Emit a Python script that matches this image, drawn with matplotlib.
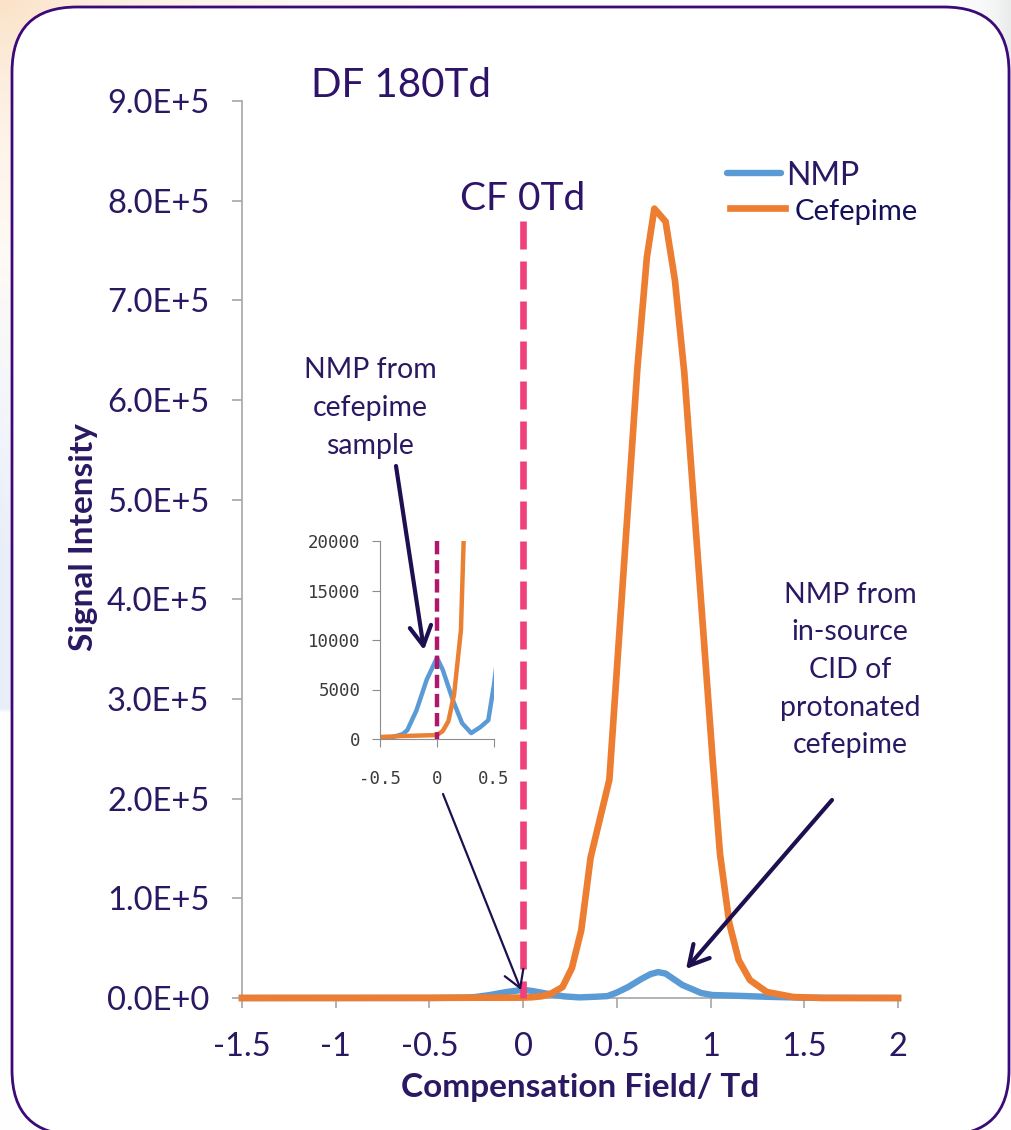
import numpy as np
import matplotlib
matplotlib.use("Agg")
import matplotlib.pyplot as plt
from matplotlib.patches import FancyBboxPatch
from matplotlib.lines import Line2D

W, H = 1011, 1130

# NMP signal vs compensation field (Td)
cf_nmp = [-1.5, -0.5, -0.4, -0.3, -0.26, -0.18, -0.09, 0.0, 0.05, 0.14, 0.22, 0.30,
          0.38, 0.45, 0.50, 0.56, 0.63, 0.68, 0.72, 0.76, 0.85, 0.95, 1.01, 1.1,
          1.3, 1.5, 2.0]
nmp = [0, 0, 150, 500, 900, 2900, 6000, 8200, 7000, 3900, 1600, 600,
       1200, 1900, 5500, 11000, 19000, 24000, 26000, 24500, 13000, 5000, 3000, 2500,
       1200, 300, 0]

# Cefepime signal vs compensation field (Td)
cf_cef = [-1.5, -0.5, -0.3, 0.0, 0.05, 0.10, 0.15, 0.21, 0.26, 0.31, 0.36, 0.46,
          0.61, 0.66, 0.70, 0.76, 0.81, 0.86, 1.01, 1.05, 1.10, 1.15, 1.21, 1.30,
          1.44, 1.6, 2.0]
cef = [0, 200, 300, 400, 800, 1800, 4500, 11000, 30000, 68000, 141000, 219000,
       633000, 743000, 792000, 779000, 720000, 627000, 242000, 145000, 75000, 38000, 18000, 6000,
       1000, 0, 0]

cf_zero = [0, 0]
cf_zero_top = [780000, 0]
cf_zero_inset = [20000, 0]

x_ticks = [-1.5, -1, -0.5, 0, 0.5, 1, 1.5, 2]
x_labels = ['-1.5', '-1', '-0.5', '0', '0.5', '1', '1.5', '2']
y_ticks = [0, 1e5, 2e5, 3e5, 4e5, 5e5, 6e5, 7e5, 8e5, 9e5]
y_labels = ['0.0E+0', '1.0E+5', '2.0E+5', '3.0E+5', '4.0E+5',
            '5.0E+5', '6.0E+5', '7.0E+5', '8.0E+5', '9.0E+5']
inset_x_ticks = [-0.5, 0, 0.5]
inset_x_labels = ['-0.5', '0', '0.5']
inset_y_ticks = [0, 5000, 10000, 15000, 20000]

purple = '#2B1863'
blue = '#5B9BD5'
orange = '#ED7D31'
pink = '#F0427A'
grey = '#A6A6A6'

plt.rcParams['font.family'] = ['Lato', 'DejaVu Sans']
plt.rcParams['axes.unicode_minus'] = False


def fx(px):
    return px / W


def fy(py):
    return 1 - py / H


fig = plt.figure(figsize=(W / 100, H / 100), dpi=100)

# slide background and rounded frame
bg = fig.add_axes([0, 0, 1, 1], zorder=-10)
X, Y = np.meshgrid(np.arange(0, W, 4), np.arange(0, H, 4))
img = np.ones(X.shape + (3,))
peach = np.array([251, 226, 200]) / 255
light_blue = np.array([232, 238, 248]) / 255
light_grey = np.array([232, 234, 234]) / 255
w1 = np.exp(-np.hypot(X, Y * 1.3) / 200)[..., None]
w2 = (np.clip((Y - 250) / 300, 0, 1) * (Y < 712) * np.exp(-X / 80))[..., None]
w3 = (np.exp(-(W - X) / 25) * (Y < 200))[..., None]
img = img * (1 - w1) + peach * w1
img = img * (1 - w2) + light_blue * w2
img = img * (1 - w3) + light_grey * w3
bg.imshow(img, extent=[0, W, H, 0], aspect='auto', interpolation='bilinear')
bg.set_xlim(0, W)
bg.set_ylim(H, 0)
bg.axis('off')
frame = FancyBboxPatch((12, 7), 997, 1128, boxstyle='round,pad=0,rounding_size=65',
                       facecolor='white', edgecolor='#3C0A78', linewidth=2, clip_on=False)
bg.add_patch(frame)

# main chart
ax = fig.add_axes([fx(242), fy(998), fx(898) - fx(242), fy(101) - fy(998)], zorder=1)
ax.set_facecolor('none')
ax.plot(cf_nmp, nmp, color=blue, lw=4.6, zorder=3, clip_on=False, solid_joinstyle='round')
ax.plot(cf_cef, cef, color=orange, lw=4.8, zorder=4, clip_on=False, solid_joinstyle='round')
ax.plot(cf_zero, cf_zero_top, color=pink, lw=4.8, dashes=(4.2, 1.8), zorder=5, clip_on=False)
ax.set_xlim(-1.5, 2)
ax.set_ylim(0, 9e5)
ax.spines[['top', 'right']].set_visible(False)
for s in ['left', 'bottom']:
    ax.spines[s].set_color(grey)
    ax.spines[s].set_linewidth(1.2)
ax.set_xticks(x_ticks, x_labels)
ax.set_yticks(y_ticks, y_labels)
ax.tick_params(colors=grey, labelcolor=purple, labelsize=23.5, length=7.5, width=1.2)
ax.tick_params(axis='x', pad=17)
ax.tick_params(axis='y', pad=16)

fig.text(fx(580), fy(1097), 'Compensation Field/ Td', ha='center', va='baseline',
         fontsize=24, fontweight='bold', color=purple)
fig.text(fx(83), fy(537), 'Signal Intensity', ha='center', va='center', rotation=90,
         fontsize=24, fontweight='bold', color=purple)

fig.text(fx(311), fy(97), 'DF 180Td', fontsize=29, color='#2E1468', va='baseline')
fig.text(fx(460), fy(210), 'CF 0Td', fontsize=28, color='#2E1468', va='baseline')

# legend
fig.add_artist(Line2D([fx(727), fx(781)], [fy(173), fy(173)], color=blue, lw=4.6,
                      solid_capstyle='round'))
fig.text(fx(786), fy(185), 'NMP', fontsize=23, color=purple, va='baseline')
fig.add_artist(Line2D([fx(730), fx(785)], [fy(208), fy(208)], color=orange, lw=4.8))
fig.text(fx(795), fy(220), 'Cefepime', fontsize=21, color='#14105A', va='baseline')

# zoomed inset near CF = 0
ins = fig.add_axes([fx(380), fy(739), fx(494) - fx(380), fy(541) - fy(739)], zorder=2)
ins.set_facecolor('none')
ins.plot(cf_nmp, nmp, color=blue, lw=3.2)
ins.plot(cf_cef, cef, color='#E98033', lw=3.2)
ins.plot(cf_zero, cf_zero_inset, color='#B0166C', lw=3.2, dashes=(3, 1.3))
ins.set_xlim(-0.5, 0.5)
ins.set_ylim(0, 20000)
ins.spines[['top', 'right']].set_visible(False)
for s in ['left', 'bottom']:
    ins.spines[s].set_color('#8C8C8C')
ins.set_xticks(inset_x_ticks, inset_x_labels)
ins.set_yticks(inset_y_ticks)
ins.tick_params(axis='both', colors='#8C8C8C', labelcolor='#3A3A3A', labelsize=12.5, length=6)
ins.tick_params(axis='x', pad=16)
ins.tick_params(axis='y', pad=8)
for lbl in ins.get_xticklabels() + ins.get_yticklabels():
    lbl.set_fontfamily('DejaVu Sans Mono')

# annotations
ann_color = '#1E0F50'
fig.text(fx(370), fy(408), 'NMP from\ncefepime\nsample', ha='center', va='center',
         fontsize=20.5, color=purple, linespacing=1.55)
fig.text(fx(850), fy(670), 'NMP from\nin-source\nCID of\nprotonated\ncefepime', ha='center',
         va='center', fontsize=20.5, color=purple, linespacing=1.55)

arrow_thick = dict(arrowstyle='->,head_length=1.0,head_width=0.55', color=ann_color,
                   lw=3, mutation_scale=14, shrinkA=0, shrinkB=0)
arrow_thin = dict(arrowstyle='->,head_length=1.0,head_width=0.6', color=ann_color,
                  lw=1.6, mutation_scale=12, shrinkA=0, shrinkB=0)
fig.add_artist(plt.Annotation('', xy=(fx(424), fy(650)), xytext=(fx(396), fy(466)),
                              xycoords='figure fraction', arrowprops=arrow_thick))
fig.add_artist(plt.Annotation('', xy=(fx(686), fy(969)), xytext=(fx(832), fy(800)),
                              xycoords='figure fraction', arrowprops=arrow_thick))
fig.add_artist(plt.Annotation('', xy=(fx(521), fy(990)), xytext=(fx(443), fy(794)),
                              xycoords='figure fraction', arrowprops=arrow_thin))

fig.savefig('out.png', dpi=100)
